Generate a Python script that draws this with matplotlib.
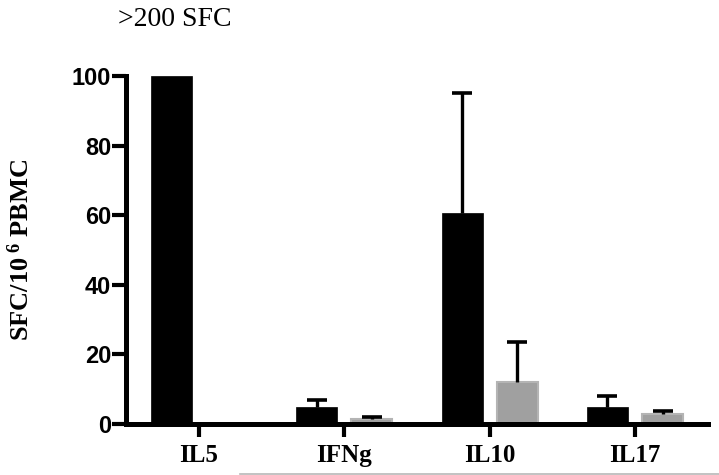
import matplotlib
matplotlib.use("Agg")
import matplotlib.pyplot as plt
from matplotlib.lines import Line2D
import numpy as np

categories = ["IL5", "IFNg", "IL10", "IL17"]
black_vals = [100, 4.8, 60.5, 4.8]
black_err = [0, 2.0, 34.5, 3.2]
gray_vals = [0, 1.4, 12.0, 2.8]
gray_err = [0, 0.6, 11.5, 1.0]
yticks = [0, 20, 40, 60, 80, 100]

plt.rcParams['mathtext.fontset'] = 'custom'
plt.rcParams['mathtext.rm'] = 'Liberation Serif:bold'
plt.rcParams['mathtext.bf'] = 'Liberation Serif:bold'
plt.rcParams['mathtext.default'] = 'bf'

fig = plt.figure(figsize=(7.19, 4.75), dpi=100)
ax = fig.add_axes([0.1758, 0.1074, 0.8083, 0.7326])

x = np.arange(len(categories))
w = 0.282
off = 0.19

ax.bar(x - off, black_vals, width=w, color='black', edgecolor='black', linewidth=0.5, zorder=2)
ax.bar(x + off, gray_vals, width=w, color='#a0a0a0', edgecolor='#b4b4b4', linewidth=1.5, zorder=2)

def upper_err(xs, vals, errs):
    for xi, v, e in zip(xs, vals, errs):
        if e > 0:
            ax.errorbar(xi, v, yerr=[[0], [e]], fmt='none', capsize=0,
                        elinewidth=2.4, ecolor='black', zorder=3)
            ax.plot([xi], [v + e], marker='_', markersize=15, markeredgewidth=2.6,
                    color='black', zorder=3, clip_on=False)

upper_err(x - off, black_vals, black_err)
upper_err(x + off, gray_vals, gray_err)

ax.set_xlim(-0.5, 3.5)
ax.set_ylim(0, 100)
ax.set_yticks(yticks)
ax.set_xticks(x)
ax.set_xticklabels(categories, fontfamily='Liberation Serif', fontweight='bold', fontsize=18)
ax.set_yticklabels([str(t) for t in yticks], fontfamily='Liberation Sans', fontweight='bold', fontsize=17)

for s in ['top', 'right']:
    ax.spines[s].set_visible(False)
for s in ['left', 'bottom']:
    ax.spines[s].set_linewidth(3.6)
    ax.spines[s].set_capstyle('projecting')
    ax.spines[s].set_zorder(4)

ax.tick_params(axis='y', length=10, width=3, pad=1, direction='out')
ax.tick_params(axis='x', length=9.5, width=3, pad=5, direction='out')

ax.set_ylabel(r'SFC/10$\,^{6}$ PBMC', fontfamily='Liberation Serif', fontweight='bold',
              fontsize=19, labelpad=27)

fig.text(175 / 719, 1 - 20 / 475, '>200 SFC', fontfamily='Liberation Serif',
         fontsize=20, ha='center', va='center')

fig.add_artist(Line2D([240 / 719, 1.0], [1.2 / 475, 1.2 / 475], color='#b8b8b8', linewidth=1.2))

fig.savefig('out.png', dpi=100)
